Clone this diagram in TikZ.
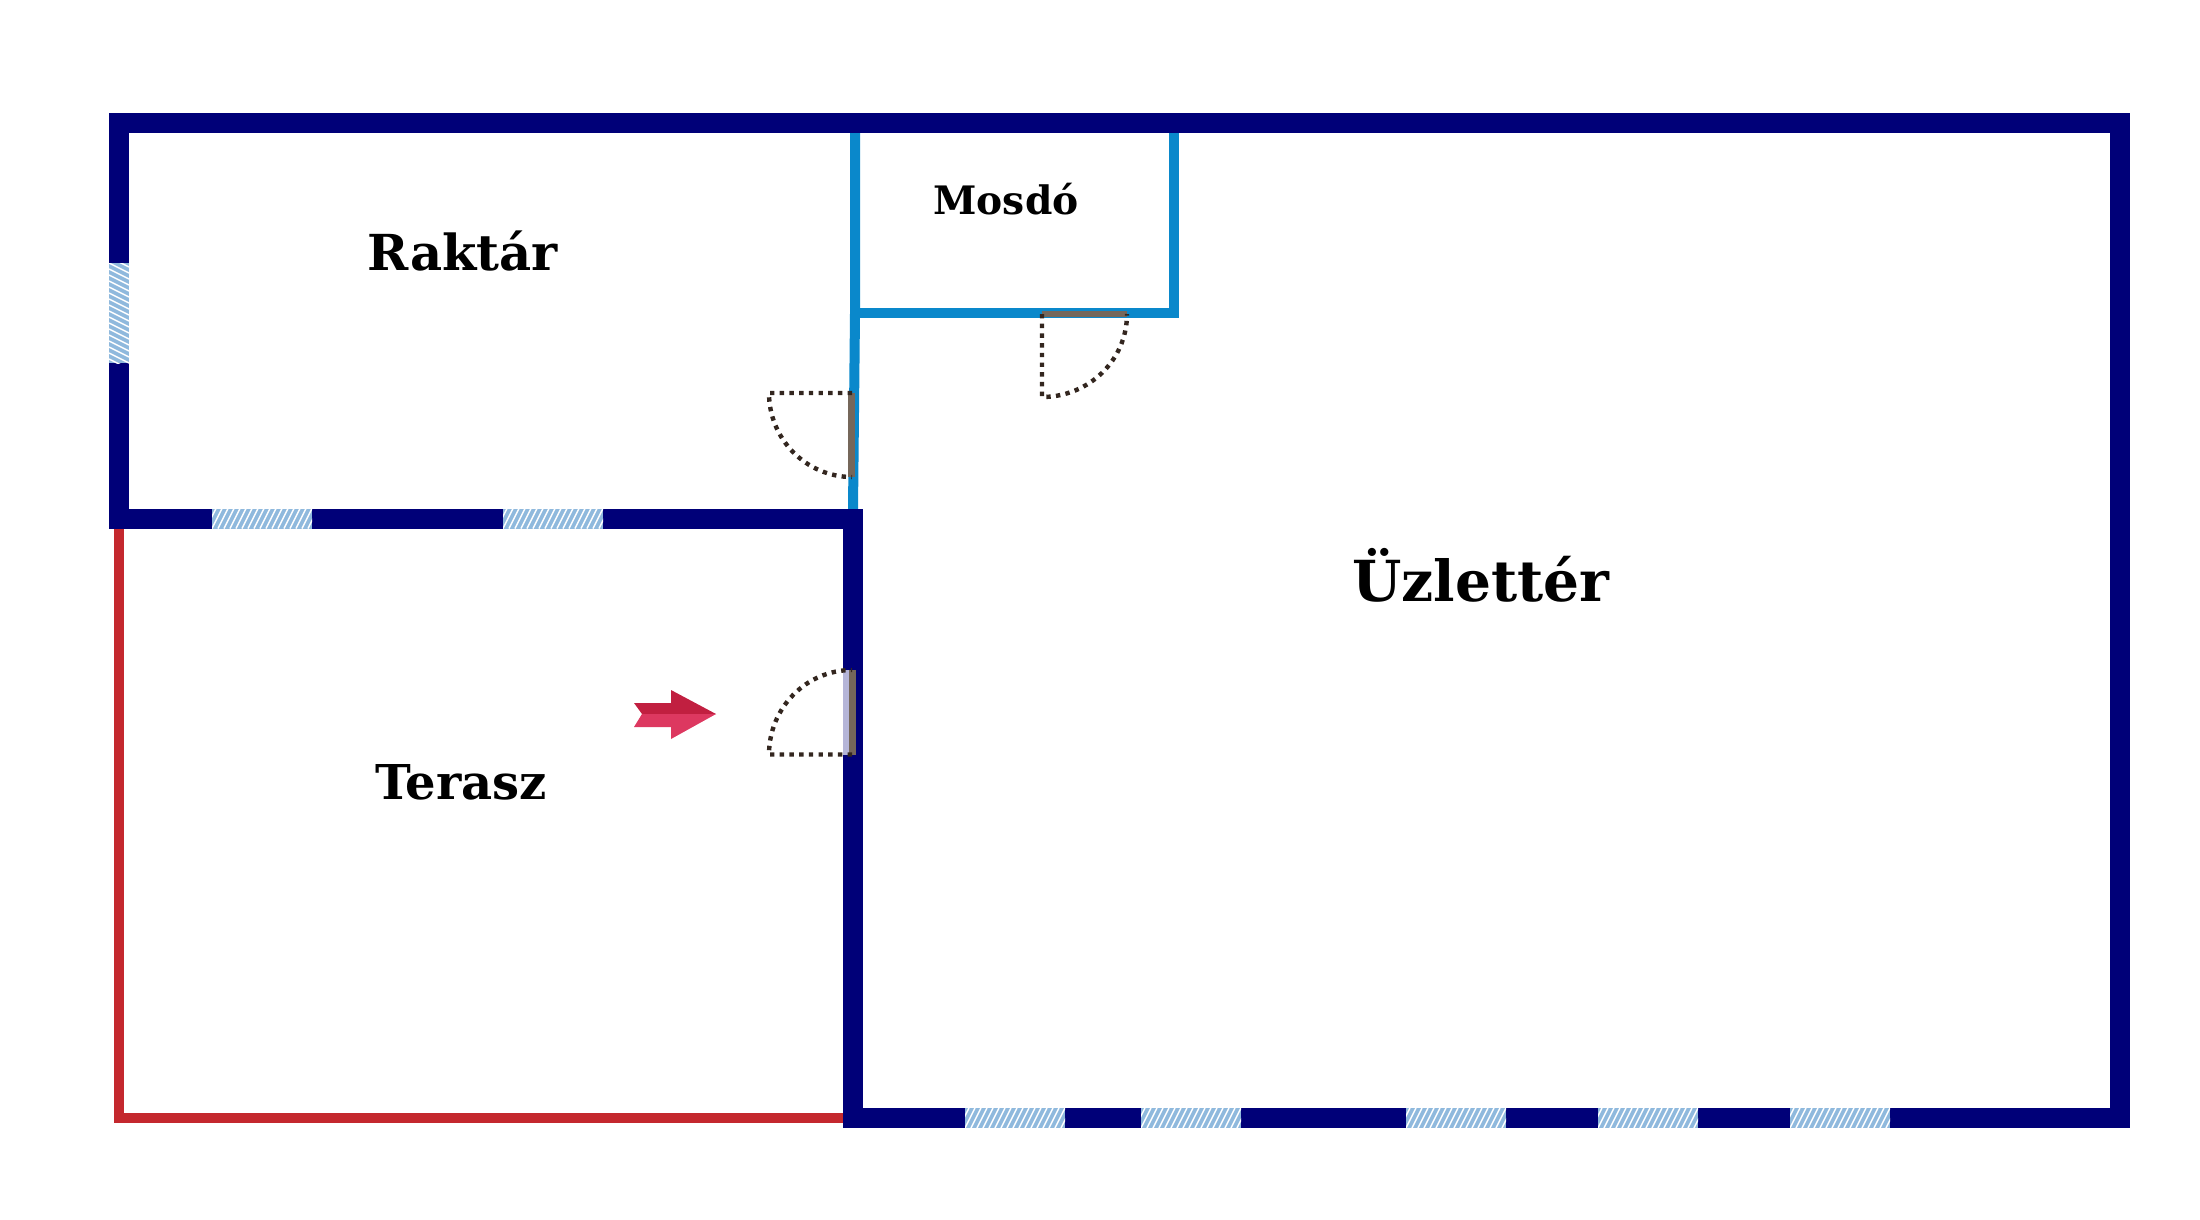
\documentclass[tikz,border=0pt]{standalone}
\usepackage{fontspec}
\setmainfont{DejaVu Serif}
\definecolor{wallnavy}{HTML}{000078}
\definecolor{wallblue}{HTML}{0A88CB}
\definecolor{wallred}{HTML}{C4282E}
\definecolor{doorbrown}{HTML}{75675A}
\definecolor{swingdark}{HTML}{33261F}
\definecolor{glassblue}{HTML}{8FB9DD}
\definecolor{sashlav}{HTML}{B5B5D8}
\definecolor{arrowdark}{HTML}{C11F40}
\definecolor{arrowlight}{HTML}{DD3860}
\tikzset{
    wall/.style = {draw=wallnavy, line width=10pt, miter limit=10},
    inner wall/.style = {draw=wallblue, line width=5pt},
    open wall/.style = {draw=wallred, line width=5pt},
    door/.style = {draw=doorbrown, line width=3.2pt},
    swing/.style = {draw=swingdark, line width=2.2pt, dash pattern=on 2.2pt off 2.65pt},
    hatch/.style = {draw=white, line width=0.7pt},
    room/.style = {inner sep=0pt, anchor=base, font=\bfseries}
}
% windows in the wall, upper left corner then lower right corner
\newcommand{\flatwindow}[4]{
    \begin{scope}
        \clip (#1,#2) rectangle (#3,#4);
        \fill[glassblue] (#1,#2) rectangle (#3,#4);
        \foreach \k in {-2,...,20}
            {\draw[hatch] (#1+\k*6,#4) -- ++(10,-20);}
    \end{scope}
}
\newcommand{\sidewindow}[4]{
    \begin{scope}
        \clip (#1,#2) rectangle (#3,#4);
        \fill[glassblue] (#1,#2) rectangle (#3,#4);
        \foreach \k in {-2,...,20}
            {\draw[hatch] (#1,#2+\k*6) -- ++(20,10);}
    \end{scope}
}
\begin{document}
\begin{tikzpicture}[x=0.5pt,y=-0.5pt]
    \useasboundingbox (0,0) rectangle (2200,1220);
    %\draw[help lines,step=100] (0,0) grid (2200,1220);

    % walls
    \draw[open wall] (119,529) -- (119,1117.5) -- (845,1117.5);
    \draw[inner wall] (855,130) -- (855,313) -- (853,510);
    \draw[inner wall] (855,313) -- (1174,313) -- (1174,130);
    \draw[wall] (119,123) -- (2120,123) -- (2120,1118) -- (853,1118) -- (853,518.5) -- (119,518.5) -- cycle;

    % windows
    \sidewindow{109}{263}{129}{363}
    \foreach \a in {212,503}
        {\flatwindow{\a}{508.5}{\a+100}{528.5}}
    \foreach \a in {965,1141,1406,1598,1790}
        {\flatwindow{\a}{1108}{\a+100}{1128}}

    % doors
    \fill[sashlav] (843,670) rectangle (850,754.5);
    \draw[door] (852.5,670) -- (852.5,754.5);
    \draw[door] (851.5,393) -- (851.5,477);
    \draw[door] (1042,314) -- (1127,314);
    \draw[swing] (852,393) -- (769,393) .. controls (769,439) and (806,477) .. (852,477);
    \draw[swing] (1042,314) -- (1042,397) .. controls (1089,397) and (1127,360) .. (1127,314);
    \draw[swing] (852,754.5) -- (769,754.5) .. controls (769,708) and (806,670) .. (852,670);

    % way in
    \fill[arrowdark] (634,703) -- (671,703) -- (671,690) -- (716,714) -- (642,714) -- cycle;
    \fill[arrowlight] (642,714) -- (716,714) -- (671,739) -- (671,727) -- (634,727) -- cycle;

    % rooms
    \node[room] (raktar) at (463,270) {\fontsize{24.8}{30}\selectfont Raktár};
    \node[room] (mosdo) at (1006,214) {\fontsize{19.6}{24}\selectfont Mosdó};
    \node[room] (terasz) at (461,799) {\fontsize{24}{30}\selectfont Terasz};
    \node[room] (uzletter) at (1481,601) {\fontsize{28.3}{36}\selectfont Üzlettér};
\end{tikzpicture}
\end{document}
